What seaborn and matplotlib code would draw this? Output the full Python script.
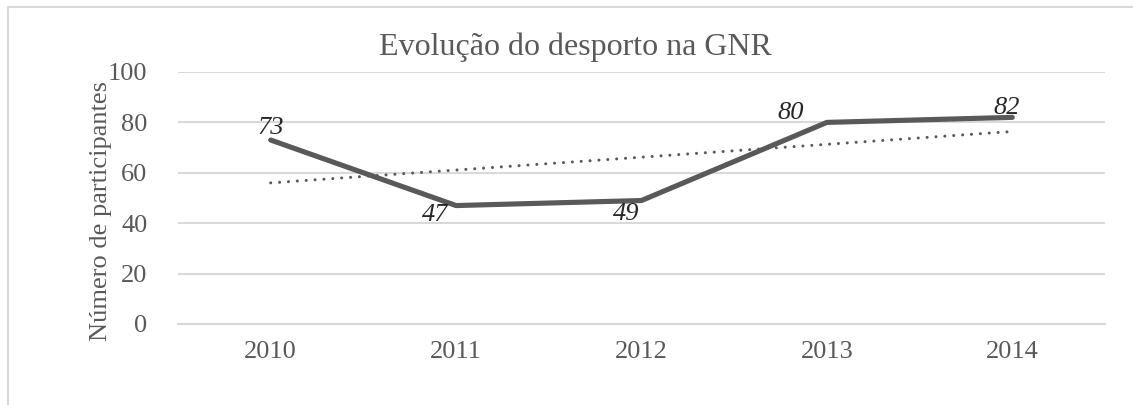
import numpy as np
import pandas as pd
import matplotlib
matplotlib.use("Agg")
import matplotlib.pyplot as plt
import seaborn as sns

# Data
years = ["2010", "2011", "2012", "2013", "2014"]
participants = [73, 47, 49, 80, 82]

df = pd.DataFrame({"Ano": years, "Participantes": participants})
df["idx"] = np.arange(len(df))

sns.set_style("white")
plt.rcParams["font.family"] = ["Liberation Serif", "DejaVu Serif"]

grey = "#595959"
fig = plt.figure(figsize=(11.33, 4.05), dpi=100)
ax = fig.add_axes([178 / 1133, 1 - 324 / 405, (1105 - 178) / 1133, (324 - 72) / 405])

# linear trend line (Excel style)
slope, intercept = np.polyfit(df["idx"], df["Participantes"], 1)
df["trend"] = intercept + slope * df["idx"]
sns.lineplot(data=df, x="idx", y="trend", ax=ax, color=grey, lw=2.2,
             linestyle=(0, (0.01, 2.9)), dash_capstyle="round")

sns.lineplot(data=df, x="idx", y="Participantes", ax=ax, color=grey, lw=3.7)

# data labels (offsets in points)
offsets = [(0, 9), (-15, -7), (-11, -10), (-26, 7), (-4, 7)]
for (i, v), (dx, dy) in zip(enumerate(participants), offsets):
    ax.annotate(str(v), (i, v), xytext=(dx, dy), textcoords="offset points",
                ha="center", va="center", fontsize=19, style="italic", color="#262626")

ax.set_xlim(-0.5, len(years) - 0.5)
ax.set_ylim(0, 100)
ax.set_yticks(range(0, 101, 20))
ax.set_xticks(range(len(years)))
ax.set_xticklabels(years)
ax.yaxis.grid(True, color="#d9d9d9", lw=1.5)
ax.set_axisbelow(True)
for s in ax.spines.values():
    s.set_visible(False)
ax.spines["bottom"].set_visible(True)
ax.spines["bottom"].set_color("#d9d9d9")
ax.spines["bottom"].set_linewidth(1.5)
ax.tick_params(axis="both", length=0, labelsize=19, colors=grey)
ax.tick_params(axis="y", pad=22)
ax.tick_params(axis="x", pad=12)
ax.set_xlabel("")
ax.set_ylabel("Número de participantes", fontsize=19, color=grey)
ax.yaxis.set_label_coords(-0.071, 0.45)

fig.text(575 / 1133, 1 - 47 / 405, "Evolução do desporto na GNR", ha="center", va="center",
         fontsize=23, color=grey)

# chart border (top and left visible)
fig.add_artist(plt.Line2D([8 / 1133, 1], [1 - 7 / 405, 1 - 7 / 405], color="#d9d9d9", lw=1.5))
fig.add_artist(plt.Line2D([8 / 1133, 8 / 1133], [0, 1 - 7 / 405], color="#d9d9d9", lw=1.5))

fig.savefig("out.png", dpi=100)
